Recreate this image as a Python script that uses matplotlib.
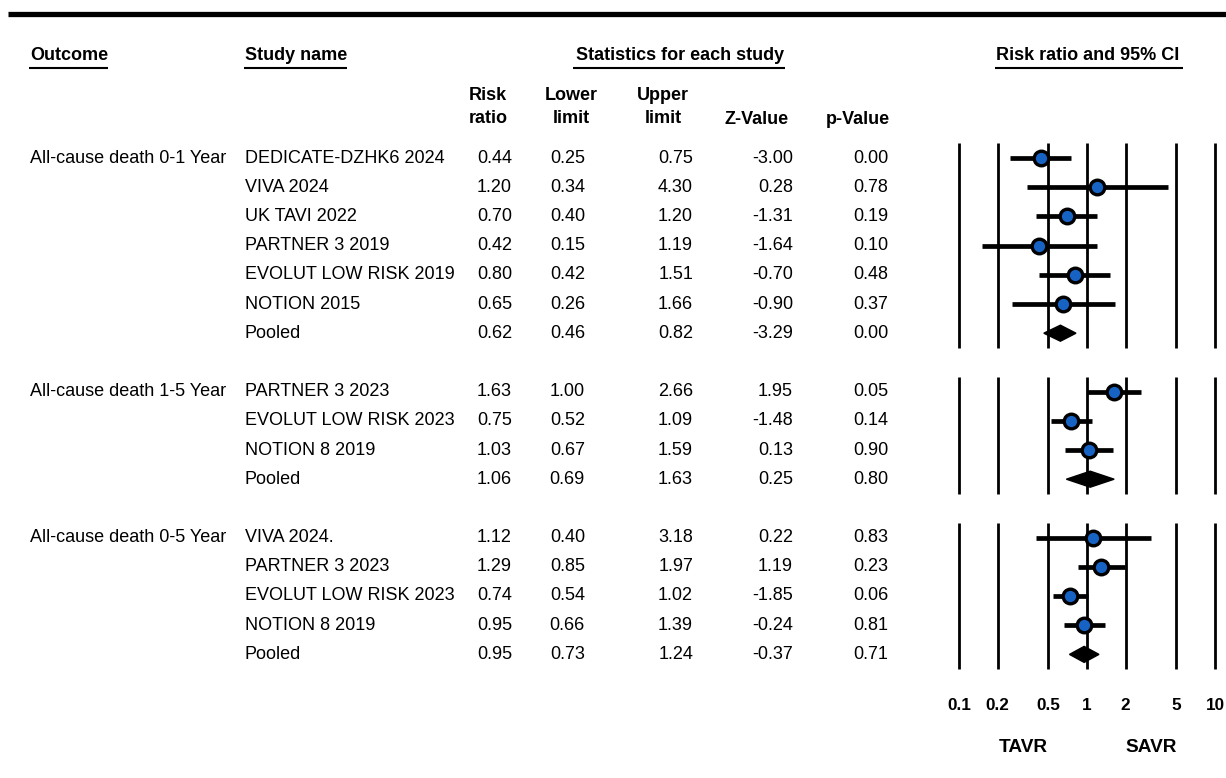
import matplotlib
matplotlib.use("Agg")
import matplotlib.pyplot as plt
from matplotlib import font_manager
from matplotlib.patches import Polygon
import numpy as np

# ---- data ----
outcomes = ["All-cause death 0-1 Year", "All-cause death 1-5 Year", "All-cause death 0-5 Year"]

studies_g1 = ["DEDICATE-DZHK6 2024", "VIVA 2024", "UK TAVI 2022", "PARTNER 3 2019",
              "EVOLUT LOW RISK 2019", "NOTION 2015", "Pooled"]
rr_g1 = [0.44, 1.20, 0.70, 0.42, 0.80, 0.65, 0.62]
lo_g1 = [0.25, 0.34, 0.40, 0.15, 0.42, 0.26, 0.46]
hi_g1 = [0.75, 4.30, 1.20, 1.19, 1.51, 1.66, 0.82]
z_g1 = [-3.00, 0.28, -1.31, -1.64, -0.70, -0.90, -3.29]
p_g1 = [0.00, 0.78, 0.19, 0.10, 0.48, 0.37, 0.00]

studies_g2 = ["PARTNER 3 2023", "EVOLUT LOW RISK 2023", "NOTION 8 2019", "Pooled"]
rr_g2 = [1.63, 0.75, 1.03, 1.06]
lo_g2 = [1.00, 0.52, 0.67, 0.69]
hi_g2 = [2.66, 1.09, 1.59, 1.63]
z_g2 = [1.95, -1.48, 0.13, 0.25]
p_g2 = [0.05, 0.14, 0.90, 0.80]

studies_g3 = ["VIVA 2024.", "PARTNER 3 2023", "EVOLUT LOW RISK 2023", "NOTION 8 2019", "Pooled"]
rr_g3 = [1.12, 1.29, 0.74, 0.95, 0.95]
lo_g3 = [0.40, 0.85, 0.54, 0.66, 0.73]
hi_g3 = [3.18, 1.97, 1.02, 1.39, 1.24]
z_g3 = [0.22, 1.19, -1.85, -0.24, -0.37]
p_g3 = [0.83, 0.23, 0.06, 0.81, 0.71]

ticks = [0.1, 0.2, 0.5, 1, 2, 5, 10]
tick_labels = ["0.1", "0.2", "0.5", "1", "2", "5", "10"]

groups = [
    (outcomes[0], studies_g1, rr_g1, lo_g1, hi_g1, z_g1, p_g1),
    (outcomes[1], studies_g2, rr_g2, lo_g2, hi_g2, z_g2, p_g2),
    (outcomes[2], studies_g3, rr_g3, lo_g3, hi_g3, z_g3, p_g3),
]

# font: narrow Arial-like if we have it
names = {f.name for f in font_manager.fontManager.ttflist}
fam = "Liberation Sans Narrow" if "Liberation Sans Narrow" in names else "Liberation Sans"
plt.rcParams["font.family"] = [fam, "DejaVu Sans"]
fs = 14.5 if fam.endswith("Narrow") else 13.0

W, H = 1226, 778
fig = plt.figure(figsize=(W / 100, H / 100), dpi=100)
ax = fig.add_axes([0, 0, 1, 1])
ax.set_xlim(0, W)
ax.set_ylim(H, 0)
ax.axis("off")

# top rule
ax.plot([8, W], [14, 14], color="black", lw=3.8, solid_capstyle="butt")

# headers
hdr = dict(fontsize=fs, fontweight="bold", va="center")
ax.text(30, 55, "Outcome", ha="left", **hdr)
ax.text(245, 55, "Study name", ha="left", **hdr)
ax.text(680, 55, "Statistics for each study", ha="center", **hdr)
ax.text(1088, 55, "Risk ratio and 95% CI", ha="center", **hdr)
for x0, x1 in [(29, 108), (244, 347), (573, 785), (995, 1183)]:
    ax.plot([x0, x1], [67.5, 67.5], color="black", lw=1.5, solid_capstyle="butt")

sub_x = [488, 571, 663, 757, 858]
ax.text(sub_x[0], 107, "Risk\nratio", ha="center", linespacing=1.5, **hdr)
ax.text(sub_x[1], 107, "Lower\nlimit", ha="center", linespacing=1.5, **hdr)
ax.text(sub_x[2], 107, "Upper\nlimit", ha="center", linespacing=1.5, **hdr)
ax.text(sub_x[3], 119, "Z-Value", ha="center", **hdr)
ax.text(sub_x[4], 119, "p-Value", ha="center", **hdr)

# forest axes (log scale), 128 px per decade, 0.1 at x=959
fx_left, fx_right = 940, W
x_lo = 10 ** (-1 - (959 - fx_left) / 128)
x_hi = 10 ** (1 + (fx_right - 1215) / 128)
fx = fig.add_axes([fx_left / W, 0, (fx_right - fx_left) / W, 1])
fx.set_xscale("log")
fx.set_xlim(x_lo, x_hi)
fx.set_ylim(H, 0)
fx.axis("off")
fx.patch.set_alpha(0)

num_right = [512, 585, 693, 793, 888]
y0, step = 158, 29.2
row = 0
for outcome, studies, rr, lo, hi, z, p in groups:
    ys = [y0 + (row + i) * step for i in range(len(studies))]
    ax.text(30, ys[0], outcome, ha="left", va="center", fontsize=fs)
    for i, name in enumerate(studies):
        y = ys[i]
        ax.text(245, y, name, ha="left", va="center", fontsize=fs)
        vals = [rr[i], lo[i], hi[i], z[i], p[i]]
        for xr, v in zip(num_right, vals):
            ax.text(xr, y, f"{v:.2f}", ha="right", va="center", fontsize=fs)
    # vertical reference lines
    fx.vlines(ticks, ys[0] - 15, ys[-1] + 15, color="black", lw=2.0, zorder=1)
    # studies
    for i in range(len(studies) - 1):
        fx.plot([lo[i], hi[i]], [ys[i], ys[i]], color="black", lw=3.4,
                solid_capstyle="butt", zorder=2)
        fx.plot(rr[i], ys[i], marker="o", ms=10.5, mfc="#1763C4", mec="black",
                mew=2.4, zorder=3)
    # pooled diamond
    k = len(studies) - 1
    yp = ys[k]
    fx.add_patch(Polygon([(lo[k], yp), (rr[k], yp - 8), (hi[k], yp), (rr[k], yp + 8)],
                         closed=True, facecolor="black", edgecolor="black", lw=1, zorder=3))
    row += len(studies) + 1

# tick labels and direction labels
for t, lab in zip(ticks, tick_labels):
    fx.text(t, 706, lab, ha="center", va="center", fontsize=fs * 0.95, fontweight="bold")
fx.text(10 ** (-0.5), 747, "TAVR", ha="center", va="center", fontsize=fs * 1.05, fontweight="bold")
fx.text(10 ** 0.5, 747, "SAVR", ha="center", va="center", fontsize=fs * 1.05, fontweight="bold")

fig.savefig("out.png", dpi=100)
